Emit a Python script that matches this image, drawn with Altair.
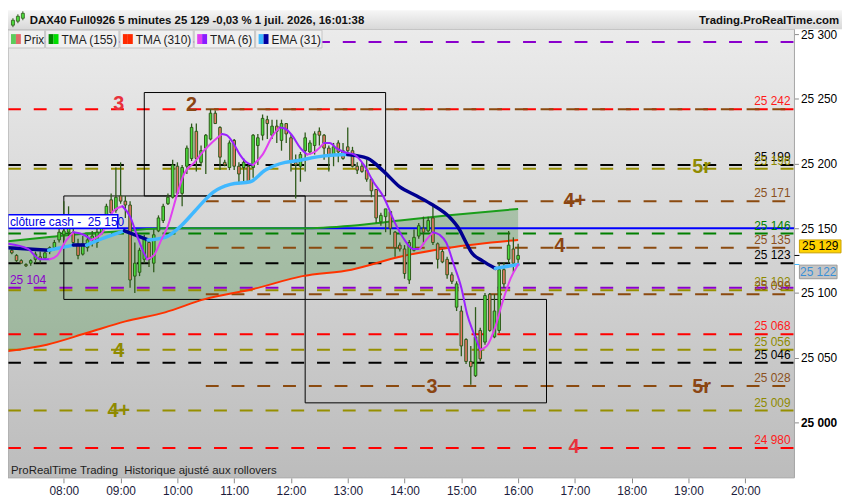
import altair as alt
import pandas as pd

# ---------------- values ----------------
bar_start = "07:05"  # first 5-minute bar, last one at 16:00
bar_open = [25133,25129,25125,25122,25123,25126,25128,25127,25132,25135,
            25141,25145,25147,25147,25138,25130,25135,25141,25139,25147,
            25156,25172,25164,25175,25171,25168,25113,25116,25126,25139,
            25123,25148,25156,25169,25174,25198,25177,25198,25204,25225,
            25201,25212,25219,25239,25228,25201,25197,25218,25198,25197,
            25198,25197,25214,25222,25234,25222,25229,25218,25231,25220,
            25201,25198,25210,25209,25214,25225,25222,25212,25207,25216,
            25210,25213,25210,25198,25198,25195,25188,25180,25155,25159,
            25163,25147,25137,25134,25110,25133,25144,25150,25148,25158,
            25138,25132,25126,25114,25089,25086,25064,25047,25036,25071,
            25062,25099,25066,25071,25118,25126,25134,25126]
bar_high = [25135,25130,25126,25123,25126,25132,25132,25132,25136,25141,
            25150,25171,25167,25151,25142,25144,25145,25148,25150,25160,
            25169,25177,25197,25201,25175,25171,25139,25135,25145,25141,
            25149,25160,25169,25177,25203,25201,25199,25214,25231,25231,
            25214,25223,25242,25241,25229,25203,25218,25219,25201,25204,
            25199,25223,25223,25238,25237,25234,25234,25234,25231,25223,
            25207,25209,25224,25218,25225,25228,25223,25214,25216,25218,
            25216,25228,25213,25201,25201,25203,25188,25180,25162,25165,
            25163,25148,25139,25137,25141,25149,25154,25159,25159,25168,
            25139,25134,25128,25116,25109,25090,25065,25059,25089,25073,
            25100,25100,25099,25124,25124,25148,25143,25138]
bar_low = [25130,25124,25123,25120,25121,25123,25123,25126,25130,25133,
           25139,25141,25144,25136,25126,25129,25132,25136,25135,25145,
           25150,25160,25162,25169,25158,25104,25100,25113,25123,25120,
           25116,25147,25154,25168,25173,25175,25167,25192,25202,25194,
           25198,25192,25218,25231,25195,25198,25195,25195,25184,25186,
           25186,25189,25199,25218,25219,25219,25216,25210,25216,25194,
           25173,25186,25194,25207,25207,25214,25203,25194,25198,25201,
           25203,25208,25197,25192,25193,25186,25174,25154,25152,25147,
           25145,25128,25132,25111,25107,25132,25142,25137,25147,25137,
           25119,25123,25111,25107,25086,25051,25045,25029,25035,25047,
           25060,25070,25065,25069,25104,25123,25116,25123]
bar_close = [25131,25125,25123,25121,25125,25130,25126,25131,25135,25139,
             25147,25148,25150,25139,25129,25138,25141,25144,25147,25158,
             25167,25162,25174,25171,25168,25110,25123,25133,25142,25126,
             25145,25158,25167,25174,25199,25177,25197,25212,25228,25204,
             25210,25222,25239,25231,25205,25199,25216,25198,25192,25201,
             25186,25222,25220,25235,25231,25229,25225,25231,25223,25201,
             25199,25207,25220,25216,25223,25222,25212,25207,25213,25209,
             25204,25210,25198,25195,25194,25188,25179,25158,25160,25165,
             25150,25135,25134,25115,25139,25143,25152,25147,25156,25139,
             25126,25124,25114,25109,25107,25059,25047,25043,25066,25049,
             25098,25071,25086,25118,25107,25137,25123,25129]

tma6_times = ["07:01","07:22","07:35","07:45","07:53","08:01","08:10","08:21","08:29","08:41",
              "08:52","09:02","09:10","09:18","09:24","09:28","09:35","09:43","09:50","10:00",
              "10:07","10:18","10:28","10:36","10:47","10:52","10:59","11:06","11:13","11:20",
              "11:30","11:41","11:48","11:54","12:01","12:10","12:17","12:25","12:35","12:41",
              "12:48","12:56","13:07","13:17","13:27","13:38","13:50","14:00","14:09","14:16",
              "14:23","14:30","14:37","14:44","14:52","15:00","15:06","15:13","15:20","15:27",
              "15:36","15:44","15:52","16:00"]
tma6_vals = [25138,25134,25126,25126,25129,25139,25147,25145,25141,25147,
             25163,25167,25159,25143,25132,25126,25129,25141,25152,25177,
             25192,25201,25210,25216,25223,25222,25216,25207,25201,25199,
             25207,25222,25228,25227,25222,25212,25207,25209,25216,25216,
             25212,25209,25207,25199,25186,25174,25154,25141,25134,25134,
             25141,25147,25145,25139,25122,25104,25084,25069,25056,25059,
             25074,25094,25111,25122]

ema31_times = ["07:01","07:44","08:10","08:24","08:44","09:04","09:29","09:47","10:04","10:18",
               "10:28","10:38","10:56","11:17","11:33","11:54","12:04","12:35","13:00","13:21",
               "13:38","13:55","14:13","14:30","14:47","14:58","15:05","15:11","15:22","15:36",
               "16:00"]
ema31_vals = [25135,25133,25137,25137,25143,25148,25141,25143,25152,25163,
              25171,25178,25184,25186,25195,25201,25202,25206,25207,25204,
              25194,25182,25175,25168,25159,25149,25139,25131,25125,25119,
              25122]

band_times = ["07:01","07:42","08:24","09:05","09:47","10:28","11:20","12:12","13:04","13:55","14:47","16:00"]
tma155_vals = [25140,25143,25146,25148,25150,25150,25150,25150,25152,25156,25160,25165]
tma310_vals = [25055,25060,25069,25078,25085,25095,25103,25113,25118,25128,25135,25141]

level_prices = [25294,25242,25242,25199,25196,25171,25146,25135,25123,25104,25102,25099,25068,25056,25046,25028,25009,24980]
level_kinds = ["purple","red","brown","black","olive","brown","green","brown","black","purple","olive","brown","red","olive","black","brown","olive","red"]
level_starts = ["07:01","07:01","10:30","07:01","07:01","10:30","07:01","10:30","07:01","07:01","07:01","10:30","07:01","07:01","07:01","10:30","07:01","07:01"]

label_prices = [25242,25199,25196,25171,25146,25135,25123,25102,25099,25068,25056,25046,25028,25009,24980]
label_kinds = ["red","black","olive","brown","green","brown","black","olive","brown","red","olive","black","brown","olive","red"]

cash_close = 25150
cash_text = "clôture cash -\u00a0 25 150"
last_price = 25129
ema_last = 25122
left_label_price = 25104

box_starts = ["09:25","08:00","12:15"]
box_ends = ["13:40","12:15","16:30"]
box_lows = [25175,25095,25015]
box_highs = [25255,25175,25095]

wave_texts = ["3","2","4","4+","5r","4+","4","3","5r","4"]
wave_times = ["08:58","10:15","08:58","08:58","19:14","17:00","16:44","14:29","19:14","16:59"]
wave_prices = [25246,25245,25055,25009,25197,25171,25136,25027,25027,24981]
wave_kinds = ["red","brown","olive","olive","olive","brown","brown","brown","brown","red"]

x_tick_hours = [8,9,10,11,12,13,14,15,16,17,18,19,20]
y_ticks = [25000,25050,25100,25150,25200,25250,25300]

legend_names = ["Prix","TMA (155)","TMA (310)","TMA (6)","EMA (31)"]
legend_c1 = ["#5ccc5c","#008a00","#ff2a00","#e040f0","#40b8ff"]
legend_c2 = ["#e06a6a","#00e000","#ff2a00","#8a1cff","#0000a0"]

title_text = "DAX40 Full0926 5 minutes 25 129 -0,03 % 1 juil. 2026, 16:01:38"
site_text = "Trading.ProRealTime.com"
foot_text = "ProRealTime Trading\u00a0 Historique ajusté aux rollovers"

# ---------------- layout / styles ----------------
W, H = 794, 453
PAD_TOP, PAD_RIGHT, PAD_BOTTOM = 19, 48, 20
X0, X1 = 421, 1252
Y0, Y1 = 24957, 25304
legend_edges = [0, 38, 113, 188, 250, 318]

LINE_COL = {"purple": "#8a00cc", "red": "#ff0000", "brown": "#8b4a0f", "black": "#000000",
            "olive": "#968f00", "green": "#008000"}
TEXT_COL = {"red": "#ff1a1a", "black": "#000000", "olive": "#8f8a00", "brown": "#8b5020", "green": "#008000"}
WAVE_COL = {"red": "#e8323c", "brown": "#8b4513", "olive": "#8f8a00"}


def hm(s):
    h, m = s.split(":")
    return int(h) * 60 + int(m)


def fmt_price(p):
    return f"{p // 1000} {p % 1000:03d}"


xs = alt.Scale(domain=[X0, X1], nice=False, zero=False, padding=0)
ys = alt.Scale(domain=[Y0, Y1], nice=False, zero=False, padding=0)
x_axis = alt.Axis(values=[h * 60 for h in x_tick_hours], title=None, grid=False, domain=False,
                  labelExpr="(floor(datum.value/60) < 10 ? '0' : '') + floor(datum.value/60) + ':00'",
                  tickSize=5, tickColor="#8a8a8a", labelFontSize=12, labelColor="#1c1c3c",
                  labelPadding=3, labelFlush=False)
y_axis = alt.Axis(orient="right", values=y_ticks, title=None, grid=False, domain=False,
                  labelExpr="floor(datum.value/1000) + ' ' + format(datum.value % 1000, '03d')",
                  tickSize=4, tickColor="#8a8a8a", labelFontSize=12, labelColor="#000000",
                  labelPadding=2,
                  labelFontWeight={"condition": {"test": "datum.value == 25000", "value": "bold"},
                                   "value": "normal"})


def X(f):
    return alt.X(f"{f}:Q", scale=xs, axis=x_axis)


def Y(f):
    return alt.Y(f"{f}:Q", scale=ys, axis=y_axis)


dummy = pd.DataFrame({"a": [0]})

# candles
bar_t = [hm(bar_start) + 5 * i for i in range(len(bar_open))]
cdf = pd.DataFrame({"t": bar_t, "o": bar_open, "h": bar_high, "l": bar_low, "c": bar_close})
cdf["lo"] = cdf[["o", "c"]].min(axis=1)
cdf["hi"] = cdf[["o", "c"]].max(axis=1)
cdf["fill"] = ["#4cdc3c" if c >= o else "#ea7a66" for o, c in zip(bar_open, bar_close)]


def seg_runs(times, vals, up_col, down_col):
    rows, run, prev = [], -1, None
    for k in range(len(vals) - 1):
        d = "up" if vals[k + 1] > vals[k] else "down"
        col = up_col if d == "up" else down_col
        if d != prev:
            run += 1
            rows.append({"t": hm(times[k]), "v": vals[k], "run": run, "col": col})
        rows.append({"t": hm(times[k + 1]), "v": vals[k + 1], "run": run, "col": col})
        prev = d
    return pd.DataFrame(rows)


ema_df = seg_runs(ema31_times, ema31_vals, "#40b8ff", "#000090")
tma6_df = seg_runs(tma6_times, tma6_vals, "#e040f0", "#9a22ff")
band_df = pd.DataFrame({"t": [hm(t) for t in band_times], "g": tma155_vals, "r": tma310_vals})

lev_df = pd.DataFrame({"p": level_prices, "t0": [hm(s) for s in level_starts], "t1": X1,
                       "col": [LINE_COL[k] for k in level_kinds]})
lab_df = pd.DataFrame({"p": label_prices, "txt": [fmt_price(p) for p in label_prices],
                       "col": [TEXT_COL[k] for k in label_kinds]})
box_df = pd.DataFrame({"t0": [hm(s) for s in box_starts], "t1": [hm(s) for s in box_ends],
                       "p0": box_lows, "p1": box_highs})
wave_df = pd.DataFrame({"txt": wave_texts, "t": [hm(s) for s in wave_times], "p": wave_prices,
                        "col": [WAVE_COL[k] for k in wave_kinds]})

plot_grad = {"gradient": "linear", "x1": 0, "y1": 0, "x2": 0, "y2": 1,
             "stops": [{"offset": 0, "color": "#ebebeb"}, {"offset": 1, "color": "#bcbcbc"}]}
head_grad = {"gradient": "linear", "x1": 0, "y1": 0, "x2": 0, "y2": 1,
             "stops": [{"offset": 0, "color": "#f6f6f6"}, {"offset": 1, "color": "#d8d8d8"}]}

layers = []
layers.append(alt.Chart(dummy).mark_rect(fill=plot_grad).encode(
    x=alt.value(0), x2=alt.value(W), y=alt.value(0), y2=alt.value(H)))
layers.append(alt.Chart(band_df).mark_area(color="#3c8c3c", opacity=0.3, interpolate="monotone").encode(
    x=X("t"), y=Y("g"), y2="r"))
layers.append(alt.Chart(lev_df).mark_rule(strokeDash=[13, 13], strokeWidth=2).encode(
    x=X("t0"), x2="t1", y=Y("p"), color=alt.Color("col:N", scale=None)))
layers.append(alt.Chart(pd.DataFrame({"p": [cash_close], "t0": [X0], "t1": [X1]})).mark_rule(
    color="#0000ff", strokeWidth=2).encode(x=X("t0"), x2="t1", y=Y("p")))
layers.append(alt.Chart(box_df).mark_rect(fillOpacity=0, stroke="#000000", strokeWidth=1).encode(
    x=X("t0"), x2="t1", y=Y("p0"), y2="p1"))
layers.append(alt.Chart(band_df).mark_line(color="#1a9e1a", strokeWidth=2, interpolate="monotone").encode(
    x=X("t"), y=Y("g")))
layers.append(alt.Chart(band_df).mark_line(color="#ff3300", strokeWidth=2, interpolate="monotone").encode(
    x=X("t"), y=Y("r")))
layers.append(alt.Chart(cdf).mark_rule(color="#2e5a1a", strokeWidth=1.3).encode(
    x=X("t"), y=Y("l"), y2="h"))
layers.append(alt.Chart(cdf).mark_bar(size=2.6, stroke="#2e5a1a", strokeWidth=1).encode(
    x=X("t"), y=Y("lo"), y2="hi", fill=alt.Fill("fill:N", scale=None)))
layers.append(alt.Chart(ema_df).mark_line(strokeWidth=3.5, interpolate="monotone", strokeCap="round").encode(
    x=X("t"), y=Y("v"), color=alt.Color("col:N", scale=None), detail="run:N"))
layers.append(alt.Chart(tma6_df).mark_line(strokeWidth=2, interpolate="monotone", strokeCap="round").encode(
    x=X("t"), y=Y("v"), color=alt.Color("col:N", scale=None), detail="run:N"))
# level value labels at the right edge of the plot
layers.append(alt.Chart(lab_df).mark_text(align="right", baseline="alphabetic", dy=-4, fontSize=12).encode(
    x=alt.value(W - 4), y=Y("p"), text="txt:N", color=alt.Color("col:N", scale=None)))
layers.append(alt.Chart(pd.DataFrame({"t": [X0 + 2], "p": [left_label_price],
                                      "txt": [fmt_price(left_label_price)]})).mark_text(
    align="left", baseline="alphabetic", dy=-4, fontSize=12, color="#8a00cc").encode(
    x=X("t"), y=Y("p"), text="txt:N"))
# wave labels
layers.append(alt.Chart(wave_df).mark_text(fontSize=20, fontWeight="bold", align="center",
                                           baseline="middle").encode(
    x=X("t"), y=Y("p"), text="txt:N", color=alt.Color("col:N", scale=None)))
# clôture cash box
cash_df = pd.DataFrame({"t0": [X0], "t1": [hm("08:57")], "p0": [cash_close], "p1": [cash_close + 10.5],
                        "tt": [X0 + 2], "pm": [cash_close + 5.2], "txt": [cash_text]})
layers.append(alt.Chart(cash_df).mark_rect(fill="#ffffff", stroke="#0000ff", strokeWidth=1.5).encode(
    x=X("t0"), x2="t1", y=Y("p0"), y2="p1"))
layers.append(alt.Chart(cash_df).mark_text(align="left", baseline="middle", fontSize=12, color="#0000e0").encode(
    x=X("tt"), y=Y("pm"), text="txt:N"))
# footnote
layers.append(alt.Chart(dummy).mark_text(align="left", baseline="bottom", fontSize=11.5, color="#1e1e1e",
                                         text=foot_text).encode(x=alt.value(3), y=alt.value(H - 2)))
# plot border
layers.append(alt.Chart(dummy).mark_rect(fillOpacity=0, stroke="#a4a4a4", strokeWidth=1).encode(
    x=alt.value(0), x2=alt.value(W), y=alt.value(0), y2=alt.value(H)))
# price badges on the right axis
badge_df = pd.DataFrame({"top": [last_price + 12], "bot": [last_price + 2], "mid": [last_price + 7],
                         "p": [last_price], "txt": [fmt_price(last_price)]})
layers.append(alt.Chart(badge_df).mark_rule(color="#000000", strokeWidth=1).encode(
    x=alt.value(W), x2=alt.value(W + 5), y=Y("p")))
layers.append(alt.Chart(badge_df).mark_rect(fill="#ffd200", stroke="#c8a000", strokeWidth=1).encode(
    x=alt.value(W + 5), x2=alt.value(W + 47), y=Y("top"), y2="bot"))
layers.append(alt.Chart(badge_df).mark_text(fontSize=12, color="#000000", baseline="middle", align="center").encode(
    x=alt.value(W + 26), y=Y("mid"), text="txt:N"))
ema_b = pd.DataFrame({"top": [ema_last - 0.5], "bot": [ema_last - 11], "mid": [ema_last - 5.7],
                      "p": [ema_last], "txt": [fmt_price(ema_last)]})
layers.append(alt.Chart(ema_b).mark_rule(color="#40b8ff", strokeWidth=1).encode(
    x=alt.value(W), x2=alt.value(W + 5), y=Y("p")))
layers.append(alt.Chart(ema_b).mark_rect(fill="#c4c4c4", stroke="#9a9a9a", strokeWidth=1).encode(
    x=alt.value(W + 5), x2=alt.value(W + 43), y=Y("top"), y2="bot"))
layers.append(alt.Chart(ema_b).mark_text(fontSize=12, color="#3a8fd6", baseline="middle", align="center").encode(
    x=alt.value(W + 24), y=Y("mid"), text="txt:N"))
# header bar
layers.append(alt.Chart(dummy).mark_rect(fill=head_grad).encode(
    x=alt.value(0), x2=alt.value(W + PAD_RIGHT), y=alt.value(-PAD_TOP), y2=alt.value(0)))
icon_df = pd.DataFrame({"x": [5, 10, 15], "w0": [-11, -15, -18], "w1": [-2, -6, -9],
                        "b0": [-9, -13, -16], "b1": [-4, -8, -11]})
layers.append(alt.Chart(icon_df).mark_rule(color="#2e5a1a", strokeWidth=1).encode(
    x=alt.X("x:Q", scale=None), y=alt.Y("w0:Q", scale=None), y2="w1:Q"))
layers.append(alt.Chart(icon_df).mark_bar(size=3, fill="#4cdc3c", stroke="#2e5a1a", strokeWidth=0.8).encode(
    x=alt.X("x:Q", scale=None), y=alt.Y("b0:Q", scale=None), y2="b1:Q"))
layers.append(alt.Chart(dummy).mark_text(align="left", baseline="alphabetic", fontSize=11.5, fontWeight="bold",
                                         color="#101010", text=title_text).encode(
    x=alt.value(22), y=alt.value(-5)))
layers.append(alt.Chart(dummy).mark_text(align="right", baseline="alphabetic", fontSize=11.5, fontWeight="bold",
                                         color="#101010", text=site_text).encode(
    x=alt.value(W + 45), y=alt.value(-5)))
# legend strip
leg_df = pd.DataFrame({"name": legend_names, "c1": legend_c1, "c2": legend_c2,
                       "x0": legend_edges[:-1], "x1": [e - 1 for e in legend_edges[1:]]})
leg_df["s0"] = leg_df["x0"] + 3
leg_df["s1"] = leg_df["x0"] + 8
leg_df["s2"] = leg_df["x0"] + 13
leg_df["tx"] = leg_df["x0"] + 16
layers.append(alt.Chart(leg_df).mark_rect(fill="#f0f0f0", stroke="#c4c4c4", strokeWidth=1).encode(
    x=alt.X("x0:Q", scale=None), x2="x1:Q", y=alt.value(1), y2=alt.value(19)))
layers.append(alt.Chart(leg_df).mark_rect().encode(
    x=alt.X("s0:Q", scale=None), x2="s1:Q", y=alt.value(5), y2=alt.value(15),
    fill=alt.Fill("c1:N", scale=None)))
layers.append(alt.Chart(leg_df).mark_rect().encode(
    x=alt.X("s1:Q", scale=None), x2="s2:Q", y=alt.value(5), y2=alt.value(15),
    fill=alt.Fill("c2:N", scale=None)))
layers.append(alt.Chart(leg_df).mark_text(align="left", baseline="middle", fontSize=12, color="#1e1e1e").encode(
    x=alt.X("tx:Q", scale=None), y=alt.value(10.5), text="name:N"))

chart = alt.layer(*layers).properties(
    width=W, height=H,
    autosize=alt.AutoSizeParams(type="none"),
    padding={"left": 0, "top": PAD_TOP, "right": PAD_RIGHT, "bottom": PAD_BOTTOM},
).configure(font="Liberation Sans").configure_view(strokeWidth=0)

chart.save("out.html", embed_options={"renderer": "svg", "actions": False})
